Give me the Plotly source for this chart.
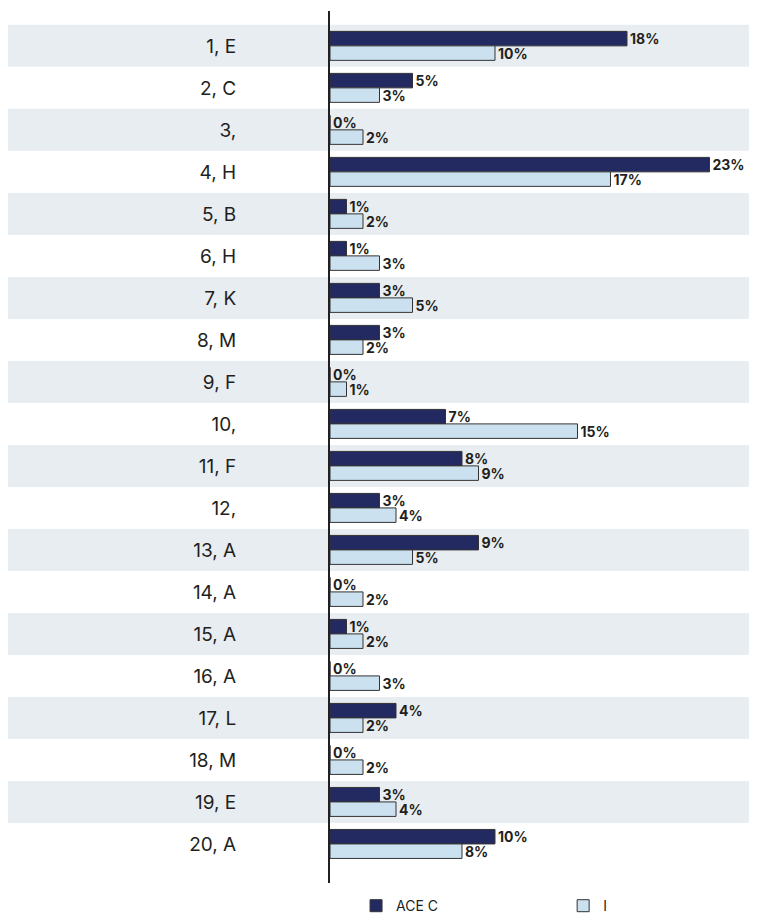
import plotly.graph_objects as go

categories = ["1, E", "2, C", "3,", "4, H", "5, B", "6, H", "7, K", "8, M", "9, F", "10,",
              "11, F", "12,", "13, A", "14, A", "15, A", "16, A", "17, L", "18, M", "19, E", "20, A"]
series_a_name = "ACE C"
series_b_name = "I"
series_a = [18, 5, 0, 23, 1, 1, 3, 3, 0, 7, 8, 3, 9, 0, 1, 0, 4, 0, 3, 10]
series_b = [10, 3, 2, 17, 2, 3, 5, 2, 1, 15, 9, 4, 5, 2, 2, 3, 2, 2, 4, 8]

NAVY = "#232a62"
LIGHT = "#cce1ef"
BAND = "#e8edf2"
TXT = "#231f20"

fig = go.Figure()
fig.add_trace(go.Bar(
    y=categories, x=series_a, name=series_a_name, orientation="h",
    marker=dict(color=NAVY, line=dict(color="#333333", width=1)),
    text=[f"{v}%" for v in series_a], textposition="outside", cliponaxis=False,
    constraintext="none", legend="legend",
    textfont=dict(family="Inter", size=14, color=TXT, weight="bold"),
))
fig.add_trace(go.Bar(
    y=categories, x=series_b, name=series_b_name, orientation="h",
    marker=dict(color=LIGHT, line=dict(color="#333333", width=1)),
    text=[f"{v}%" for v in series_b], textposition="outside", cliponaxis=False,
    constraintext="none", legend="legend2",
    textfont=dict(family="Inter", size=14, color=TXT, weight="bold"),
))

shapes = []
for i in range(0, len(categories), 2):
    shapes.append(dict(type="rect", xref="paper", yref="y", x0=-0.76, x1=1,
                       y0=i - 0.5, y1=i + 0.5, fillcolor=BAND, line=dict(width=0),
                       layer="below"))

n = len(categories)
leg_common = dict(orientation="h", xanchor="left", yref="container", y=0.012,
                  yanchor="middle", font=dict(size=14, color=TXT),
                  bgcolor="rgba(0,0,0,0)")
fig.update_layout(
    width=749, height=909,
    margin=dict(l=322, r=0, t=3, b=34, autoexpand=False),
    paper_bgcolor="white", plot_bgcolor="white",
    barmode="group", bargap=0.31, bargroupgap=0,
    shapes=shapes,
    font=dict(family="Inter", color=TXT),
    showlegend=True,
    legend=dict(x=0.061, **leg_common),
    legend2=dict(x=0.546, **leg_common),
    xaxis=dict(range=[0, 25.88], showgrid=False, zeroline=False, showticklabels=False,
               showline=False, fixedrange=True),
    yaxis=dict(type="category", categoryorder="array", categoryarray=categories,
               range=[n - 1 + 0.93, -0.83], showgrid=False, zeroline=False,
               showline=True, linecolor=TXT, linewidth=2, ticks="",
               ticklabelstandoff=88,
               tickfont=dict(size=19, color=TXT, family="Inter")),
)

fig.write_html("out.html")
